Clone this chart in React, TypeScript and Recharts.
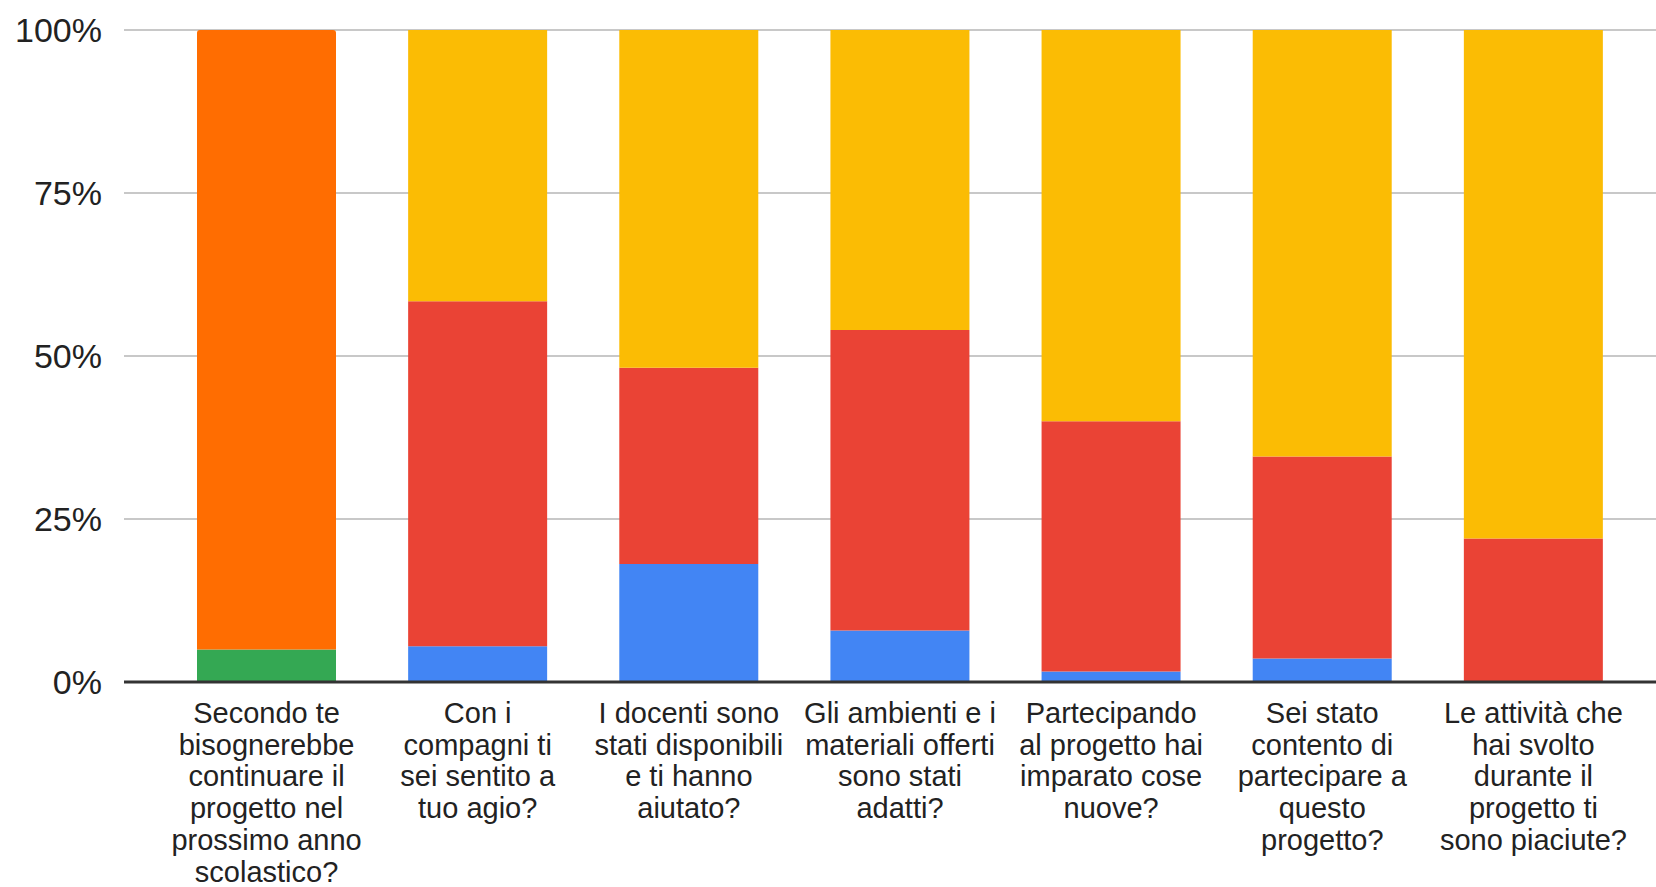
import { BarChart, Bar, XAxis, YAxis, CartesianGrid, ReferenceLine } from 'recharts';

// Question labels, line breaks as in the original chart
const QUESTIONS = [
  'Secondo te\nbisognerebbe\ncontinuare il\nprogetto nel\nprossimo anno\nscolastico?',
  'Con i\ncompagni ti\nsei sentito a\ntuo agio?',
  'I docenti sono\nstati disponibili\ne ti hanno\naiutato?',
  'Gli ambienti e i\nmateriali offerti\nsono stati\nadatti?',
  'Partecipando\nal progetto hai\nimparato cose\nnuove?',
  'Sei stato\ncontento di\npartecipare a\nquesto\nprogetto?',
  'Le attività che\nhai svolto\ndurante il\nprogetto ti\nsono piaciute?',
];

// percentages per answer, bottom to top
const BLUE = [0, 5.5, 18.1, 7.9, 1.6, 3.6, 0];
const RED = [0, 52.9, 30.1, 46.1, 38.4, 31.0, 22.0];
const YELLOW = [0, 41.6, 51.8, 46.0, 60.0, 65.4, 78.0];
const GREEN = [5, 0, 0, 0, 0, 0, 0];
const ORANGE = [95, 0, 0, 0, 0, 0, 0];

const Y_TICKS = [0, 25, 50, 75, 100];

const FONT = '"Liberation Sans", Arial, sans-serif';

const data = QUESTIONS.map((name, i) => ({
  name,
  blue: BLUE[i],
  red: RED[i],
  yellow: YELLOW[i],
  green: GREEN[i],
  orange: ORANGE[i],
}));

const QuestionTick = (props: any) => {
  const { x, y, payload } = props;
  const lines = String(payload.value).split('\n');
  return (
    <text x={x} y={y + 33} textAnchor="middle" fill="#222" fontSize={29} fontFamily={FONT}>
      {lines.map((line, i) => (
        <tspan key={i} x={x} dy={i === 0 ? 0 : 31.7}>
          {line}
        </tspan>
      ))}
    </text>
  );
};

const App = () => {
  return (
    <div style={{ position: 'absolute', left: 0, top: 0, width: 1656, height: 887, background: '#fff' }}>
      <BarChart
        width={1656}
        height={887}
        data={data}
        margin={{ top: 30, right: 0, left: 0, bottom: 0 }}
      >
        <CartesianGrid vertical={false} stroke="#c8c8c8" strokeWidth={2} />
        <XAxis
          dataKey="name"
          interval={0}
          tickLine={false}
          axisLine={false}
          height={205}
          padding={{ left: 37, right: 17 }}
          tick={<QuestionTick />}
        />
        <YAxis
          type="number"
          domain={[0, 100]}
          ticks={Y_TICKS}
          width={124}
          tickLine={false}
          axisLine={false}
          tickSize={0}
          tickMargin={22}
          tickFormatter={(v) => `${v}%`}
          tick={{ fill: '#222', fontSize: 34, fontFamily: FONT }}
        />
        <Bar dataKey="blue" stackId="s" fill="#4285F4" barSize={139} isAnimationActive={false} />
        <Bar dataKey="red" stackId="s" fill="#EA4335" barSize={139} isAnimationActive={false} />
        <Bar dataKey="yellow" stackId="s" fill="#FBBC04" barSize={139} isAnimationActive={false} />
        <Bar dataKey="green" stackId="s" fill="#34A853" barSize={139} isAnimationActive={false} />
        <Bar dataKey="orange" stackId="s" fill="#FF6D01" barSize={139} radius={[3, 3, 0, 0]} isAnimationActive={false} />
        <ReferenceLine y={0} stroke="#333333" strokeWidth={3} />
      </BarChart>
    </div>
  );
};

export default App;
